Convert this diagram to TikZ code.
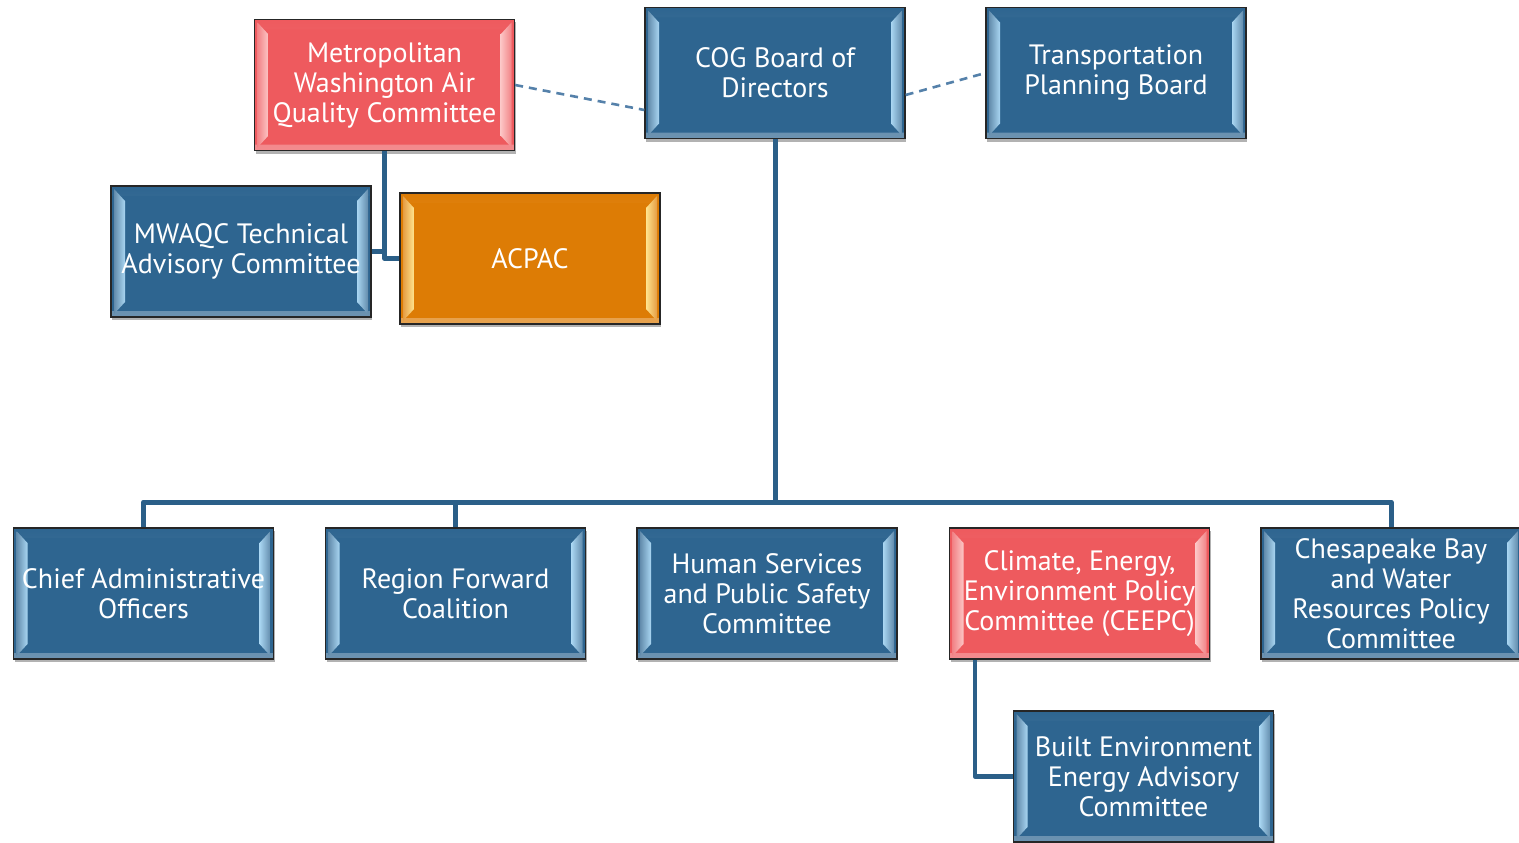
\documentclass[tikz,border=0pt]{standalone}
\usepackage{fontspec}
\setmainfont{PT Sans}
\usetikzlibrary{shadows,calc}
\definecolor{bluebox}{HTML}{2E6590}
\definecolor{bluelight}{HTML}{A9D6F2}
\definecolor{redbox}{HTML}{EE5A5E}
\definecolor{redlight}{HTML}{FCC6C6}
\definecolor{orangebox}{HTML}{DD7C05}
\definecolor{orangelight}{HTML}{FFE48E}
\definecolor{conn}{HTML}{2B5F88}
\definecolor{dashc}{HTML}{5581AA}
\tikzset{
  orgbox/.style 2 args={draw=black!85, line width=1.3pt, fill=#1,
    minimum width=260pt, minimum height=131pt, inner sep=0pt,
    align=center, text=white, font=\fontsize{28}{30}\selectfont,
    drop shadow={shadow xshift=1pt, shadow yshift=-3pt, opacity=0.3, fill=black},
    path picture={
      \path let \p1=(path picture bounding box.south west),
                \p2=(path picture bounding box.north east) in
        [top color=#1!50!white, bottom color=#1]
        (\x1,\y2) rectangle (\x2,\y2-10pt)
        [top color=#1, bottom color=#1!70!white]
        (\x1,\y1+6pt) rectangle (\x2,\y1);
      \path let \p1=(path picture bounding box.south west),
                \p2=(path picture bounding box.north east) in
        [left color=#1!75!white, right color=#2]
        (\x1+3pt,\y1+3pt) -- (\x1+14pt,\y1+15pt) -- (\x1+14pt,\y2-15pt) -- (\x1+3pt,\y2-3pt) -- cycle;
      \path let \p1=(path picture bounding box.south west),
                \p2=(path picture bounding box.north east) in
        [left color=#2, right color=#1!75!white]
        (\x2-3pt,\y1+3pt) -- (\x2-14pt,\y1+15pt) -- (\x2-14pt,\y2-15pt) -- (\x2-3pt,\y2-3pt) -- cycle;
    }},
  bluenode/.style={orgbox={bluebox}{bluelight}},
  rednode/.style={orgbox={redbox}{redlight}},
  orangenode/.style={orgbox={orangebox}{orangelight}},
  tree/.style={draw=conn, line width=5pt, line join=round},
  dashlink/.style={draw=dashc, line width=2.6pt, dash pattern=on 8pt off 6pt}
}
\begin{document}
\begin{tikzpicture}[x=1pt, y=-1pt]
\useasboundingbox (0,0) rectangle (1519,843);
\coordinate (bar) at (0,502);
\node[rednode] (mwaqc) at (384.5,85) {Metropolitan\\Washington Air\\Quality Committee};
\node[bluenode] (cog) at (775,73) {COG Board of\\Directors};
\node[bluenode] (tpb) at (1116,73) {Transportation\\Planning Board};
\node[bluenode] (tac) at (241,251.5) {MWAQC Technical\\Advisory Committee};
\node[orangenode] (acpac) at (530,258.5) {ACPAC};
\node[bluenode] (cao) at (143.5,593.5) {Chief Administrative\\Officers};
\node[bluenode] (rfc) at (455.5,593.5) {Region Forward\\Coalition};
\node[bluenode] (hsps) at (767,593.5) {Human Services\\and Public Safety\\Committee};
\node[rednode] (ceepc) at (1079.5,593.5) {Climate, Energy,\\Environment Policy\\Committee (CEEPC)};
\node[bluenode] (cbwr) at (1391,593.5) {Chesapeake Bay\\and Water\\Resources Policy\\Committee};
\node[bluenode] (beeac) at (1143.5,776.5) {Built Environment\\Energy Advisory\\Committee};
% tree connectors
\draw[tree] (cog.south) -- (cog.south |- bar);
\draw[tree] (cao.north) -- (cao.north |- bar) -- (cbwr.north |- bar) -- (cbwr.north);
\draw[tree] (rfc.north) -- (rfc.north |- bar);
\draw[tree, line width=4.5pt] (mwaqc.south) |- (tac.east);
\draw[tree, line width=4.5pt] (mwaqc.south) |- (acpac.west);
\draw[tree, line width=4.5pt] ([xshift=-104.5pt]ceepc.south) |- (beeac.west);
% dashed links
\draw[dashlink] (mwaqc.east) -- ([yshift=-37pt]cog.west);
\draw[dashlink] ([yshift=-22pt]cog.east) -- (tpb.west);
\end{tikzpicture}
\end{document}
